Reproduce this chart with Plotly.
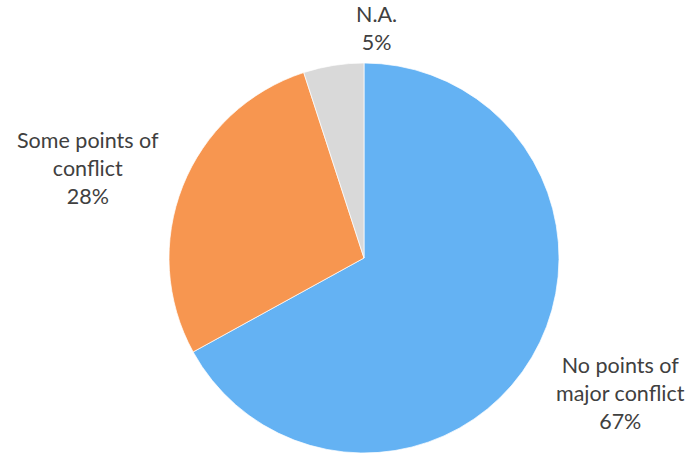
import plotly.graph_objects as go

# ---------------------------------------------------------------------------
# Data
# ---------------------------------------------------------------------------
labels = ["No points of<br>major conflict", "Some points of<br>conflict", "N.A."]
values = [67, 28, 5]
colors = ["#64b2f3", "#f79650", "#d9d9d9"]

# label anchor positions (paper coords) for the outside text
label_x = [0.899, 0.128, 0.546]
label_y = [0.138, 0.632, 0.938]

W, H = 690, 456

fig = go.Figure(go.Pie(
    labels=labels,
    values=values,
    sort=False,
    direction="clockwise",
    rotation=0,
    marker=dict(colors=colors, line=dict(color="rgba(255,255,255,0.7)", width=1)),
    textinfo="none",
    hoverinfo="label+percent",
    showlegend=False,
    domain=dict(x=[169 / W, 559 / W], y=[3 / H, 393 / H]),
))

total = sum(values)
for lab, val, x, y in zip(labels, values, label_x, label_y):
    fig.add_annotation(
        text=f"{lab}<br>{round(100 * val / total)}%",
        x=x, y=y, xref="paper", yref="paper",
        xanchor="center", yanchor="middle",
        showarrow=False,
        align="center",
        font=dict(family="Lato, Open Sans, sans-serif", size=21.5, color="#404040"),
    )

fig.update_layout(
    width=W,
    height=H,
    margin=dict(l=0, r=0, t=0, b=0),
    paper_bgcolor="white",
    plot_bgcolor="white",
)

# drop the default page margin so the figure sits flush in the window
fig.write_html(
    "out.html",
    config={"displayModeBar": False},
    post_script="document.body.style.margin = '0';",
)
